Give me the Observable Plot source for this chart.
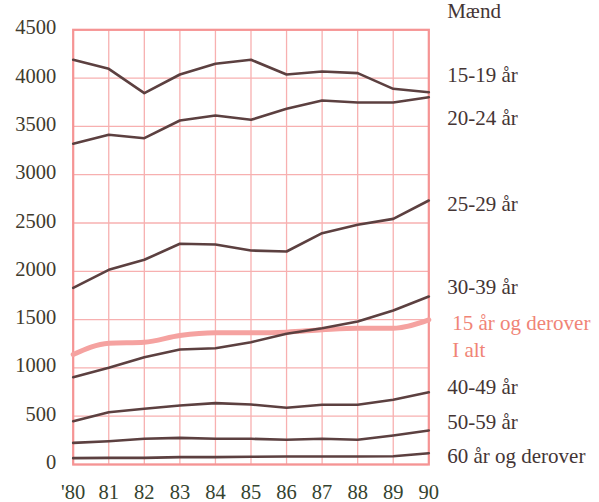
<!DOCTYPE html>
<html><head><meta charset="utf-8">
<script src="https://cdn.jsdelivr.net/npm/d3@7"></script>
<script src="https://cdn.jsdelivr.net/npm/@observablehq/plot@0.6"></script>
<style>body{margin:0;background:#fff}</style>
</head><body><div id="chart"></div>
<script>
const years = [1980,1981,1982,1983,1984,1985,1986,1987,1988,1989,1990];
const yearLabels = ["'80","81","82","83","84","85","86","87","88","89","90"];
const yTicks = [0,500,1000,1500,2000,2500,3000,3500,4000,4500];
const s15_19 = [4190,4096,3844,4037,4148,4190,4037,4068,4051,3889,3854];
const s20_24 = [3320,3413,3378,3561,3613,3568,3682,3768,3747,3747,3802];
const s25_29 = [1829,2015,2119,2285,2277,2215,2205,2395,2481,2543,2733];
const s30_39 = [904,1001,1111,1190,1204,1266,1353,1411,1480,1594,1739];
const sTotal = [1139,1256,1266,1335,1363,1363,1370,1394,1411,1411,1498];
const s40_49 = [448,541,577,611,635,621,587,618,618,670,748];
const s50_59 = [224,241,266,276,266,266,256,266,256,300,352];
const s60 = [66,69,69,76,76,80,83,83,83,86,117];

const seriesNames = ["15-19 år","20-24 år","25-29 år","30-39 år","40-49 år","50-59 år","60 år og derover"];
const seriesValues = [s15_19,s20_24,s25_29,s30_39,s40_49,s50_59,s60];
const labelTexts = ["15-19 år","20-24 år","25-29 år","30-39 år","40-49 år","50-59 år","60 år og derover"];
const labelValues = [4027,3589,2699,1832,800,435,86];
const totalLabels = ["15 år og derover","I alt"];
const totalLabelValues = [1463,1180];
const headerLabel = "Mænd";

const rows = [];
seriesNames.forEach((n,i)=>years.forEach((y,j)=>rows.push({series:n,year:y,value:seriesValues[i][j]})));
const totalRows = years.map((y,j)=>({year:y,value:sTotal[j]}));
const labelRows = labelTexts.map((t,i)=>({t,v:labelValues[i]}));
const totalLabelRows = totalLabels.map((t,i)=>({t,v:totalLabelValues[i]}));

const serif = "'Liberation Serif', 'DejaVu Serif', serif";
const chart = Plot.plot({
  width: 599, height: 502,
  marginLeft: 72.7, marginRight: 170.7, marginTop: 29.3, marginBottom: 38,
  style: {fontFamily: serif, background: "#fff"},
  x: {domain: [1980,1990], label: null},
  y: {domain: [0,4500], label: null},
  marks: [
    Plot.ruleX(years, {stroke: "#f7b0b0", strokeWidth: 1.3}),
    Plot.ruleY(yTicks, {stroke: "#f7b0b0", strokeWidth: 1.3}),
    Plot.frame({stroke: "#f59494", strokeWidth: 2.2}),
    Plot.axisY(yTicks, {label: null, tickSize: 0, tickPadding: 17, fontSize: 20.5, fill: "#3f3b2e", dy: -2, tickFormat: d => String(d)}),
    Plot.axisX(years, {label: null, tickSize: 0, tickPadding: 20, fontSize: 20.5, fill: "#35432f", tickFormat: d => yearLabels[years.indexOf(d)]}),
    Plot.line(totalRows, {x: "year", y: "value", stroke: "#f5a2a0", strokeWidth: 5, curve: "monotone-x"}),
    Plot.line(rows, {x: "year", y: "value", z: "series", stroke: "#5c4040", strokeWidth: 2.6, curve: "linear"}),
    Plot.text(labelRows, {x: () => 1990, y: "v", text: "t", dx: 18.4, textAnchor: "start", fontSize: 21, fill: "#443535"}),
    Plot.text(totalLabelRows, {x: () => 1990, y: "v", text: "t", dx: 23.4, textAnchor: "start", fontSize: 21, fill: "#f08476"}),
    Plot.text([headerLabel], {x: () => 1990, y: () => 4690, text: d => d, dx: 18.4, textAnchor: "start", fontSize: 21, fill: "#443535"})
  ]
});
document.getElementById("chart").append(chart);
</script>
</body></html>
